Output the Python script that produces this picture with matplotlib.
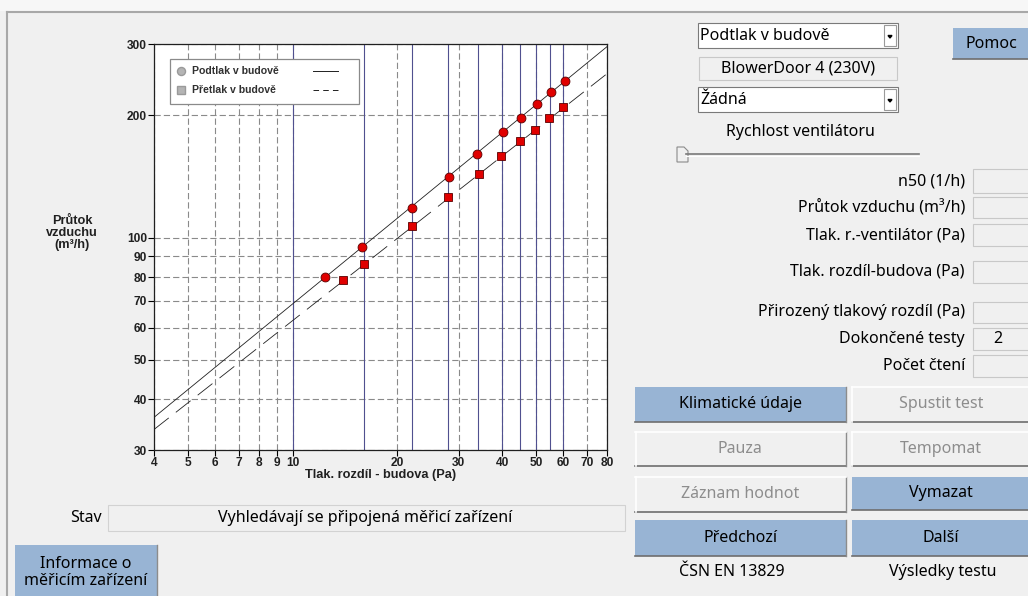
import matplotlib
matplotlib.use("Agg")
import matplotlib.pyplot as plt
from matplotlib.patches import Rectangle, Polygon
from matplotlib.ticker import FixedLocator, NullLocator
import numpy as np

# measured points (pressure difference Pa, air flow m3/h)
podtlak_dp = [12.4, 15.8, 22.0, 28.1, 33.8, 40.3, 45.2, 50.2, 55.2, 60.6]
podtlak_q = [80.2, 94.9, 118.6, 141.2, 160.8, 182.5, 197.6, 213.9, 228.0, 243.6]
pretlak_dp = [14.0, 16.0, 22.0, 28.0, 34.3, 39.8, 45.0, 49.6, 54.6, 59.8]
pretlak_q = [78.7, 86.0, 106.7, 125.8, 143.2, 158.7, 173.1, 184.6, 196.8, 209.5]

# regression lines (end points)
podtlak_fit_dp = [4, 80]
podtlak_fit_q = [36.1, 295.5]
pretlak_fit_dp = [4, 80]
pretlak_fit_q = [33.7, 253.5]

# target pressure steps (blue verticals)
target_dp = [10, 16, 22, 28, 34, 40, 45, 50, 55, 60]

x_ticks = [4, 5, 6, 7, 8, 9, 10, 20, 30, 40, 50, 60, 70, 80]
y_ticks = [30, 40, 50, 60, 70, 80, 90, 100, 200, 300]

legend_labels = ["Podtlak v budově", "Přetlak v budově"]

BG = "#f0f0f0"
BLUE = "#98b4d4"
UI_FONT = ["Noto Sans", "DejaVu Sans"]
CH_FONT = ["Liberation Sans", "DejaVu Sans"]
UI_SIZE = 11.5

plt.rcParams["lines.scale_dashes"] = False

W, H = 1028, 596
fig = plt.figure(figsize=(W / 100, H / 100), dpi=100, facecolor=BG)

# ---- UI layer in pixel coordinates ----
ui = fig.add_axes([0, 0, 1, 1], zorder=0)
ui.set_xlim(0, W)
ui.set_ylim(H, 0)
ui.axis("off")
ui.add_patch(Rectangle((0, 0), W, 11, facecolor="#f7f7f7", edgecolor="none"))
ui.plot([7, W], [12, 12], color="#a8a8a8", lw=1.5)
ui.plot([7, 7], [12, H], color="#a8a8a8", lw=1.5)


def box(x0, y0, x1, y1, fc=BG, ec="#c8c8c8"):
    ui.add_patch(Rectangle((x0, y0), x1 - x0, y1 - y0, facecolor=fc,
                           edgecolor=ec, lw=0.8))


def button(x0, y0, x1, y1, label, enabled=True, blue=True):
    fc = BLUE if blue else BG
    ui.add_patch(Rectangle((x0, y0), x1 - x0, y1 - y0, facecolor=fc,
                           edgecolor="none"))
    ui.plot([x0, x1], [y1, y1], color="#6e6e6e", lw=1.2)
    ui.plot([x1, x1], [y0, y1], color="#8c8c8c", lw=1.0)
    if not blue:
        ui.plot([x0, x1], [y0 + 0.5, y0 + 0.5], color="white", lw=1.2)
        ui.plot([x0 + 0.5, x0 + 0.5], [y0, y1], color="white", lw=1.2)
    ui.text((x0 + x1) / 2, (y0 + y1) / 2, label, ha="center", va="center",
            fontsize=UI_SIZE, family=UI_FONT,
            color="black" if enabled else "#8d8d8d", linespacing=1.1)


def combo(x0, y0, x1, y1, label):
    box(x0, y0, x1, y1, fc="white", ec="#7a7a7a")
    box(x1 - 14, y0 + 2, x1 - 2, y1 - 2, fc="white", ec="#9a9a9a")
    cx, cy = x1 - 8, (y0 + y1) / 2 + 1
    ui.add_patch(Polygon([[cx - 2, cy - 1], [cx + 2, cy - 1], [cx, cy + 1.5]],
                         closed=True, color="black"))
    ui.text(x0 + 2, (y0 + y1) / 2, label, ha="left", va="center",
            fontsize=UI_SIZE, family=UI_FONT)


combo(698, 23, 898, 48, "Podtlak v budově")
box(699, 57, 897, 80)
ui.text(798, 68.5, "BlowerDoor 4 (230V)", ha="center", va="center",
        fontsize=UI_SIZE, family=UI_FONT)
combo(698, 87, 898, 112, "Žádná")
ui.text(800, 132, "Rychlost ventilátoru", ha="center", va="center",
        fontsize=UI_SIZE, family=UI_FONT)
ui.plot([686, 919], [154, 154], color="#7a7a7a", lw=1.2)
ui.plot([686, 919], [155.5, 155.5], color="white", lw=0.8)
ui.add_patch(Polygon([[677, 147], [684, 147], [688, 151], [688, 162], [677, 162]],
                     closed=True, facecolor=BG, edgecolor="#8a8a8a", lw=0.8))

button(952.7, 28.3, 1030, 59.3, "Pomoc")

field_labels = ["n50 (1/h)", "Průtok vzduchu (m³/h)", "Tlak. r.-ventilátor (Pa)",
                "Tlak. rozdíl-budova (Pa)", "Přirozený tlakový rozdíl (Pa)",
                "Dokončené testy", "Počet čtení"]
field_y = [(169.3, 192.7), (196.7, 218.3), (224, 246), (260.7, 283.3),
           (301.7, 323.3), (328.3, 350), (355, 376.7)]
field_values = ["", "", "", "", "", "2", ""]
for lab, (y0, y1), val in zip(field_labels, field_y, field_values):
    box(972.7, y0, 1034, y1)
    ui.text(965, (y0 + y1) / 2, lab, ha="right", va="center",
            fontsize=UI_SIZE, family=UI_FONT)
    if val:
        ui.text(998, (y0 + y1) / 2, val, ha="center", va="center",
                fontsize=UI_SIZE, family=UI_FONT)

button(635, 386.7, 845.7, 421.7, "Klimatické údaje")
button(851.7, 386.7, 1030, 421.7, "Spustit test", enabled=False, blue=False)
button(635, 431.7, 845.7, 465.7, "Pauza", enabled=False, blue=False)
button(851.7, 431.7, 1030, 465.7, "Tempomat", enabled=False, blue=False)
button(635, 476.7, 845.7, 511.7, "Záznam hodnot", enabled=False, blue=False)
button(851.7, 476.7, 1030, 510, "Vymazat")
button(635, 520, 845.7, 556, "Předchozí")
button(851.7, 520, 1030, 556, "Další")
ui.text(731.7, 572, "ČSN EN 13829", ha="center", va="center",
        fontsize=UI_SIZE, family=UI_FONT)
ui.text(943, 572, "Výsledky testu", ha="center", va="center",
        fontsize=UI_SIZE, family=UI_FONT)

ui.text(102, 518, "Stav", ha="right", va="center", fontsize=UI_SIZE,
        family=UI_FONT)
box(108, 505, 624.5, 530.7, ec="#d2d2d2")
ui.text(365, 518, "Vyhledávají se připojená měřicí zařízení", ha="center",
        va="center", fontsize=UI_SIZE, family=UI_FONT)
button(15, 545, 157, 600, "Informace o\nměřicím zařízení")

ui.text(72, 233, "Průtok\nvzduchu\n(m³/h)", ha="center", va="center",
        fontsize=9.2, fontweight="bold", family=CH_FONT, linespacing=1.0,
        color="#202020")

# ---- chart ----
ax = fig.add_axes([154 / W, 1 - 450 / H, (607 - 154) / W, (450 - 44) / H], zorder=1)
ax.set_facecolor("white")
ax.set_xscale("log")
ax.set_yscale("log")
ax.set_xlim(4, 80)
ax.set_ylim(30, 300)

ax.xaxis.set_major_locator(FixedLocator(x_ticks))
ax.yaxis.set_major_locator(FixedLocator(y_ticks))
ax.xaxis.set_minor_locator(NullLocator())
ax.yaxis.set_minor_locator(NullLocator())
tick_kw = dict(fontsize=8.6, fontweight="bold", family=CH_FONT, color="#202020")
ax.set_xticklabels([str(v) for v in x_ticks], **tick_kw)
ax.set_yticklabels([str(v) for v in y_ticks], **tick_kw)
ax.tick_params(axis="both", length=4, width=0.8, pad=1.0, color="black")

ax.grid(True, color="#8a8a8a", lw=0.8, linestyle=(0, (4.5, 2.2)))
for s in ax.spines.values():
    s.set_color("#202020")
    s.set_linewidth(0.9)

for dp in target_dp:
    ax.axvline(dp, color="#50508f", lw=0.8, zorder=2)

ax.plot(podtlak_fit_dp, podtlak_fit_q, color="#202020", lw=0.6, zorder=3)
ax.plot(pretlak_fit_dp, pretlak_fit_q, color="#202020", lw=0.6,
        linestyle=(0, (13.5, 6.5)), zorder=3)
ax.plot(podtlak_dp, podtlak_q, "o", color="#e00000", mec="#5a0000", mew=0.6,
        ms=6.4, zorder=4)
ax.plot(pretlak_dp, pretlak_q, "s", color="#e00000", mec="#5a0000", mew=0.6,
        ms=5.6, zorder=4)

ax.set_xlabel("Tlak. rozdíl - budova (Pa)", fontsize=9.2, fontweight="bold",
              family=CH_FONT, labelpad=0, color="#202020")

# legend box drawn in pixel space (marker, text, line sample)
ui_leg = fig.add_axes([0, 0, 1, 1], zorder=2)
ui_leg.set_xlim(0, W)
ui_leg.set_ylim(H, 0)
ui_leg.axis("off")
ui_leg.add_patch(Rectangle((169.5, 58.5), 189, 45, facecolor="white",
                           edgecolor="#8a8a8a", lw=0.9))
ui_leg.plot([181], [71], "o", color="#b4b4b4", mec="#9a9a9a", ms=5.8)
ui_leg.plot([181], [90], "s", color="#b4b4b4", mec="#9a9a9a", ms=5.2)
ui_leg.text(192, 71, legend_labels[0], ha="left", va="center", fontsize=7.6,
            fontweight="bold", family=CH_FONT, color="#303030")
ui_leg.text(192, 90, legend_labels[1], ha="left", va="center", fontsize=7.6,
            fontweight="bold", family=CH_FONT, color="#303030")
ui_leg.plot([313, 338], [71, 71], color="#202020", lw=0.7)
ui_leg.plot([313, 338], [90, 90], color="#202020", lw=0.7, linestyle=(0, (4, 3)))

fig.savefig("out.png", dpi=100, facecolor=BG)
